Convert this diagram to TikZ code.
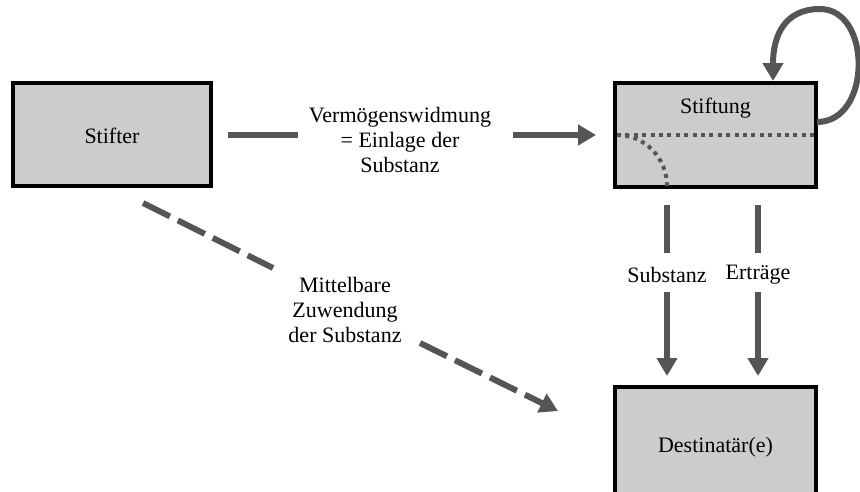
\documentclass[tikz,border=0pt]{standalone}
\usepackage{fontspec}
\setmainfont{Liberation Serif}
\usetikzlibrary{arrows.meta}
\definecolor{lc}{RGB}{85,85,85}
\definecolor{boxfill}{RGB}{204,204,204}
\tikzset{
  box/.style={draw=black, line width=4pt, fill=boxfill, rectangle, inner sep=0pt},
  conn/.style={draw=lc, line width=6pt},
  arr/.style={conn, -{Triangle[length=18pt,width=20pt]}},
  lbl/.style={align=center, inner sep=0pt, font=\fontsize{22}{25}\selectfont},
  dotl/.style={draw=lc, line width=4pt, dash pattern=on 4pt off 4.4pt},
  dashl/.style={draw=lc, line width=6pt, dash pattern=on 30pt off 9pt}
}
\begin{document}
\begin{tikzpicture}[x=1pt,y=-1pt]
\useasboundingbox (0,0) rectangle (860,491);
% boxes
\node[box, minimum width=198pt, minimum height=103pt] (stifter) at (112,134.5) {};
\node[lbl] (stiftertxt) at (112,136) {Stifter};
\node[box, minimum width=201pt, minimum height=104pt] (stiftung) at (715.5,135) {};
\node[lbl] (stiftungtxt) at (715.5,108) {Stiftung};
\node[box, minimum width=201pt, minimum height=124pt] (dest) at (715.5,449) {};
\node[lbl] (desttxt) at (715.5,447) {Destinatär(e)};
% dotted lines inside Stiftung
\coordinate (dl) at (617,135);
\coordinate (dr) at (814,135);
\coordinate (db) at (667,186);
\draw[dotl] (dl) -- (dr);
\draw[dotl] (dl) .. controls (645,135) and (667,158) .. (db);
% horizontal arrow
\node[lbl] (vw) at (400,140) {Vermögenswidmung\\= Einlage der\\Substanz};
\coordinate (h1) at (228,135);
\coordinate (h2) at (298,135);
\coordinate (h3) at (513,135);
\coordinate (h4) at (596,135);
\draw[conn] (h1) -- (h2);
\draw[arr] (h3) -- (h4);
% loop
\coordinate (l1) at (817,122);
\coordinate (l2) at (820,9);
\coordinate (l3) at (773,81);
\draw[arr] (l1) .. controls (872,122) and (872,9) .. (l2) .. controls (785,9) and (773,35) .. (l3);
% vertical arrows
\node[lbl] (subtxt) at (667,275) {Substanz};
\node[lbl] (ertxt) at (758,275) {Erträge};
\coordinate (s1) at (667,205);
\coordinate (s2) at (667,253);
\coordinate (s3) at (667,292);
\coordinate (s4) at (667,376);
\coordinate (e1) at (758,205);
\coordinate (e2) at (758,253);
\coordinate (e3) at (758,292);
\coordinate (e4) at (758,376);
\draw[conn] (s1) -- (s2);
\draw[arr] (s3) -- (s4);
\draw[conn] (e1) -- (e2);
\draw[arr] (e3) -- (e4);
% dashed diagonal
\node[lbl] (mz) at (345,310) {Mittelbare\\Zuwendung\\der Substanz};
\coordinate (d1) at (143,203);
\coordinate (d2) at (273,268);
\coordinate (d3) at (420,343);
\coordinate (d4) at (558,411);
\draw[dashl] (d1) -- (d2);
\draw[dashl, -{Triangle[length=18pt,width=20pt]}] (d3) -- (d4);
\end{tikzpicture}
\end{document}
